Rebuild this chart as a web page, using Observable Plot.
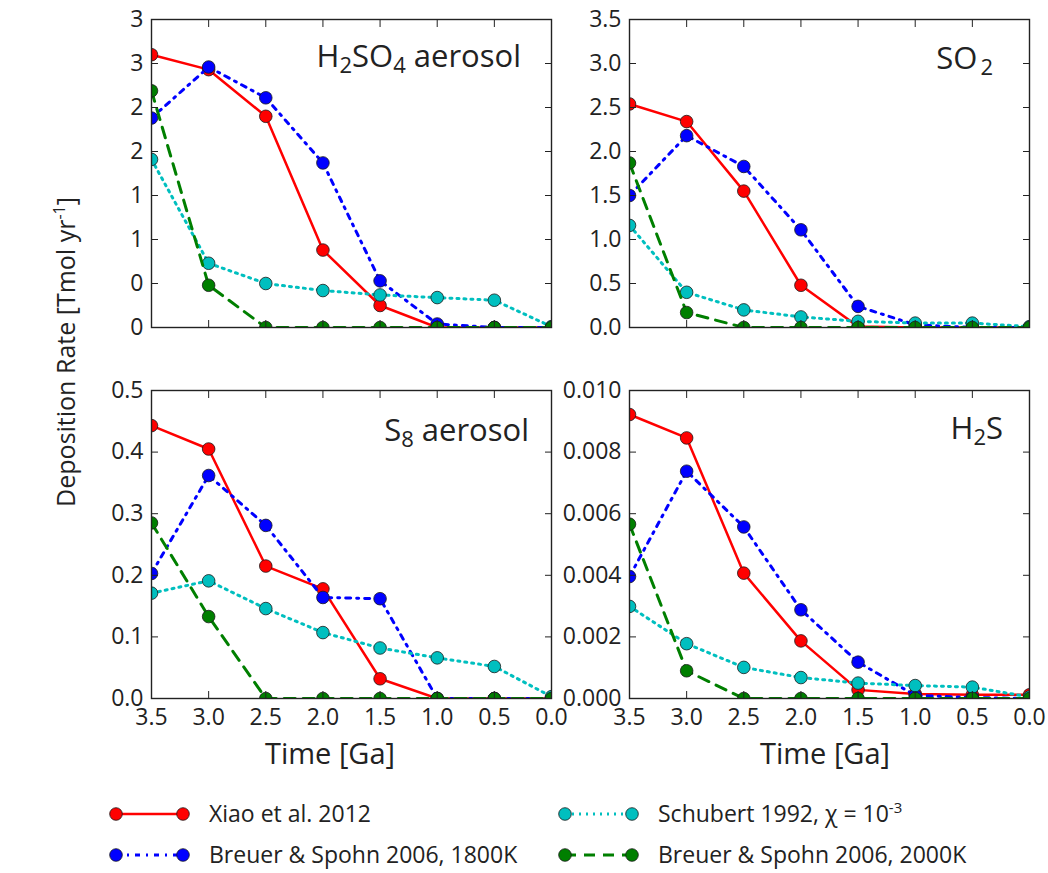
<!DOCTYPE html>
<html>
<head>
<meta charset="utf-8">
<script src="https://cdn.jsdelivr.net/npm/d3@7"></script>
<script src="https://cdn.jsdelivr.net/npm/@observablehq/plot@0.6"></script>
<style>
  html, body { margin: 0; padding: 0; background: #fff; overflow: hidden; }
  #fig { position: relative; width: 1048px; height: 873px; font-family: "Open Sans", sans-serif; color: #222; }
  #fig svg { position: absolute; overflow: visible; }
</style>
</head>
<body>
<div id="fig"></div>
<script>
// Time axis (Ga before present)
const times = [3.5, 3.0, 2.5, 2.0, 1.5, 1.0, 0.5, 0.0];
const xTicks = [3.5, 3.0, 2.5, 2.0, 1.5, 1.0, 0.5, 0.0];

// Series order: Xiao et al. 2012, Breuer & Spohn 1800K, Schubert 1992, Breuer & Spohn 2000K
const seriesNames = ["Xiao et al. 2012", "Breuer & Spohn 2006, 1800K", "Schubert 1992, χ = 10", "Breuer & Spohn 2006, 2000K"];
const seriesColors = ["#ff0000", "#0000ff", "#00bfbf", "#007f00"];
const seriesDash = [null, "5,6,2,6", "2,5", "11,8"];
const seriesWidth = [2.5, 3, 3, 3];

// H2SO4 aerosol deposition [Tmol/yr]
const h2so4Xiao = [3.10, 2.93, 2.40, 0.88, 0.25, 0.0, 0.0, 0.0];
const h2so4Breuer1800 = [2.38, 2.96, 2.61, 1.87, 0.53, 0.04, 0.0, 0.0];
const h2so4Schubert = [1.91, 0.73, 0.50, 0.42, 0.37, 0.34, 0.31, 0.01];
const h2so4Breuer2000 = [2.69, 0.48, 0.0, 0.0, 0.0, 0.0, 0.0, 0.0];

// SO2 deposition
const so2Xiao = [2.54, 2.34, 1.55, 0.48, 0.01, 0.0, 0.0, 0.0];
const so2Breuer1800 = [1.50, 2.18, 1.83, 1.11, 0.24, 0.03, 0.0, 0.0];
const so2Schubert = [1.16, 0.40, 0.20, 0.12, 0.07, 0.05, 0.05, 0.01];
const so2Breuer2000 = [1.87, 0.17, 0.0, 0.0, 0.0, 0.0, 0.0, 0.0];

// S8 aerosol deposition
const s8Xiao = [0.443, 0.405, 0.215, 0.178, 0.032, 0.0, 0.0, 0.0];
const s8Breuer1800 = [0.203, 0.362, 0.281, 0.164, 0.162, 0.0, 0.0, 0.0];
const s8Schubert = [0.171, 0.191, 0.146, 0.107, 0.082, 0.066, 0.052, 0.003];
const s8Breuer2000 = [0.285, 0.133, 0.0, 0.0, 0.0, 0.0, 0.0, 0.0];

// H2S deposition
const h2sXiao = [0.00922, 0.00846, 0.00407, 0.00187, 0.00028, 0.00015, 0.00012, 0.00012];
const h2sBreuer1800 = [0.00396, 0.00738, 0.00557, 0.00288, 0.00118, 0.00010, 0.00003, 0.0];
const h2sSchubert = [0.00299, 0.00178, 0.00101, 0.00068, 0.00050, 0.00042, 0.00037, 0.00005];
const h2sBreuer2000 = [0.00566, 0.00090, 0.0, 0.0, 0.0, 0.0, 0.0, 0.0];

// Y tick values per panel
const h2so4Ticks = [0, 0.5, 1.0, 1.5, 2.0, 2.5, 3.0, 3.5];
const so2Ticks = [0, 0.5, 1.0, 1.5, 2.0, 2.5, 3.0, 3.5];
const s8Ticks = [0, 0.1, 0.2, 0.3, 0.4, 0.5];
const h2sTicks = [0, 0.002, 0.004, 0.006, 0.008, 0.010];

const fig = document.getElementById("fig");
const FRAME_W = 400, FRAME_H = 308;
const ML = 100, MR = 19, MT = 12, MB = 80;
const ink = "#222";
const FONT = "'Open Sans', sans-serif";

function panel(opts) {
  const {series, yDomain, yTicks, yFormat, showX, frameLeft, frameTop, title, titleInset, titleBaseline} = opts;
  const marks = [];
  series.forEach((vals, i) => {
    const rows = times.map((t, j) => ({t, v: vals[j]}));
    marks.push(Plot.line(rows, {
      x: "t", y: "v", stroke: seriesColors[i], strokeWidth: seriesWidth[i],
      strokeDasharray: seriesDash[i], clip: true
    }));
    marks.push(Plot.dot(rows, {
      x: "t", y: "v", r: 6.3, fill: seriesColors[i], stroke: "#1a1a1a", strokeWidth: 0.8, clip: true
    }));
  });
  const blank = () => "";
  marks.push(
    Plot.frame({stroke: ink, strokeWidth: 1.4}),
    Plot.axisX(xTicks, {anchor: "bottom", tickSize: -7, tickPadding: 17, stroke: ink, fill: ink,
      fontSize: 23, tickFormat: showX ? (d => d.toFixed(1)) : blank, label: null}),
    Plot.axisX(xTicks, {anchor: "top", tickSize: -7, stroke: ink, tickFormat: blank, label: null}),
    Plot.axisY(yTicks, {anchor: "left", tickSize: -7, tickPadding: 15, stroke: ink, fill: ink,
      fontSize: 23, tickFormat: yFormat, label: null}),
    Plot.axisY(yTicks, {anchor: "right", tickSize: -7, stroke: ink, tickFormat: blank, label: null})
  );
  const svg = Plot.plot({
    width: ML + FRAME_W + MR, height: MT + FRAME_H + MB,
    marginLeft: ML, marginRight: MR, marginTop: MT, marginBottom: MB,
    style: {background: "transparent", overflow: "visible", fontFamily: FONT},
    x: {domain: [3.5, 0], label: null},
    y: {domain: yDomain, label: null},
    marks
  });
  svg.style.left = (frameLeft - ML) + "px";
  svg.style.top = (frameTop - MT) + "px";
  // panel title with chemical subscripts
  const txt = d3.select(svg).append("text")
    .attr("x", ML + FRAME_W - titleInset)
    .attr("y", MT + titleBaseline)
    .attr("text-anchor", "end")
    .attr("fill", ink)
    .style("font-family", FONT)
    .style("font-size", "31px");
  let lowered = false;
  title.forEach(([s, sub, gap]) => {
    const span = txt.append("tspan").text(s);
    if (sub && !lowered) { span.attr("dy", 6); lowered = true; }
    else if (!sub && lowered) { span.attr("dy", -6); lowered = false; }
    if (sub) span.style("font-size", "22px");
    if (gap) span.attr("dx", gap);
  });
  fig.appendChild(svg);
}

const floorFmt = d => String(Math.floor(d));
const fix1 = d => d.toFixed(1);
const fix3 = d => d.toFixed(3);

panel({series: [h2so4Xiao, h2so4Breuer1800, h2so4Schubert, h2so4Breuer2000],
  yDomain: [0, 3.5], yTicks: h2so4Ticks, yFormat: floorFmt, showX: false,
  frameLeft: 151, frameTop: 19, title: [["H"], ["2", true], ["SO"], ["4", true], [" aerosol"]],
  titleInset: 30, titleBaseline: 48});
panel({series: [so2Xiao, so2Breuer1800, so2Schubert, so2Breuer2000],
  yDomain: [0, 3.5], yTicks: so2Ticks, yFormat: fix1, showX: false,
  frameLeft: 629, frameTop: 19, title: [["SO"], ["2", true, 3]],
  titleInset: 36, titleBaseline: 50});
panel({series: [s8Xiao, s8Breuer1800, s8Schubert, s8Breuer2000],
  yDomain: [0, 0.5], yTicks: s8Ticks, yFormat: fix1, showX: true,
  frameLeft: 151, frameTop: 390, title: [["S"], ["8", true], [" aerosol"]],
  titleInset: 22, titleBaseline: 51});
panel({series: [h2sXiao, h2sBreuer1800, h2sSchubert, h2sBreuer2000],
  yDomain: [0, 0.010], yTicks: h2sTicks, yFormat: fix3, showX: true,
  frameLeft: 629, frameTop: 390, title: [["H"], ["2", true], ["S"]],
  titleInset: 26, titleBaseline: 49});

// Shared labels and legend
const over = d3.select(fig).append("svg")
  .attr("width", 1048).attr("height", 873)
  .style("left", "0px").style("top", "0px")
  .style("font-family", FONT);

const yl = over.append("text")
  .attr("transform", "translate(75,352) rotate(-90)")
  .attr("text-anchor", "middle").attr("fill", ink).style("font-size", "25px");
yl.append("tspan").text("Deposition Rate [Tmol yr");
yl.append("tspan").text("-1").attr("dy", -10).style("font-size", "16px");
yl.append("tspan").text("]").attr("dy", 10);

[330, 825].forEach(cx => {
  over.append("text").attr("x", cx).attr("y", 764).attr("text-anchor", "middle")
    .attr("fill", ink).style("font-size", "29px").text("Time [Ga]");
});

const legendX = [116, 116, 565, 565];
const legendY = [814, 855, 814, 855];
seriesNames.forEach((name, i) => {
  const x0 = legendX[i], y0 = legendY[i], x1 = x0 + 67;
  over.append("line").attr("x1", x0).attr("x2", x1).attr("y1", y0).attr("y2", y0)
    .attr("stroke", seriesColors[i]).attr("stroke-width", seriesWidth[i])
    .attr("stroke-dasharray", seriesDash[i]);
  [x0, x1].forEach(cx => over.append("circle").attr("cx", cx).attr("cy", y0).attr("r", 6.3)
    .attr("fill", seriesColors[i]).attr("stroke", "#1a1a1a").attr("stroke-width", 0.8));
  const t = over.append("text").attr("x", x1 + 26).attr("y", y0 + 8).attr("fill", ink)
    .style("font-size", "23px").text(name);
  if (i === 2) t.append("tspan").text("-3").attr("dy", -9).style("font-size", "15px");
});
</script>
</body>
</html>
